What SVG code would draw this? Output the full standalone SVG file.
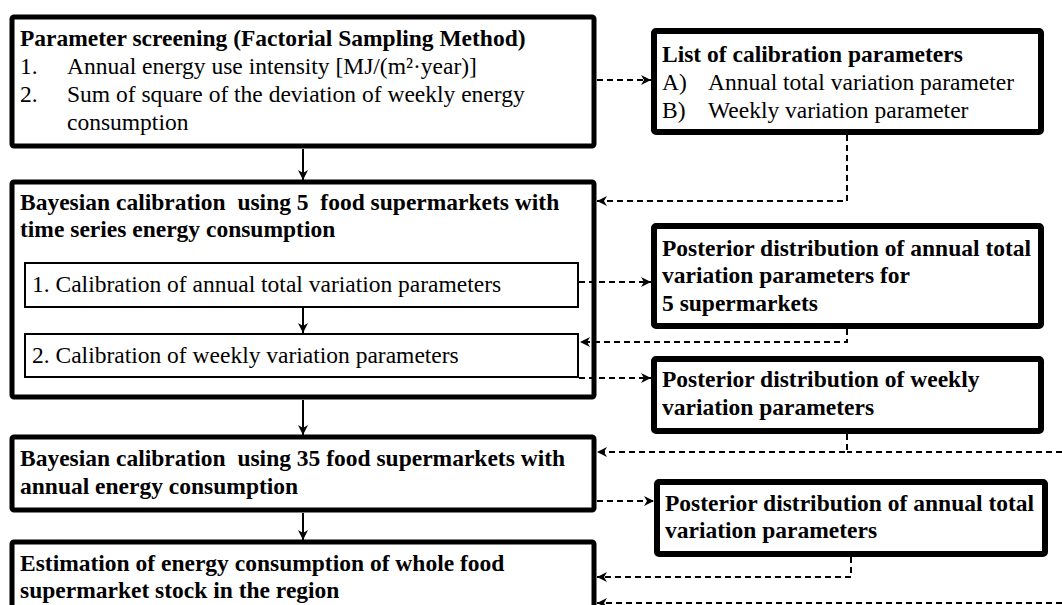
<svg xmlns="http://www.w3.org/2000/svg" width="1062" height="605" viewBox="0 0 1062 605">
<style>
.box{fill:#fff;stroke:#000;stroke-width:5}
.rbox{fill:#fff;stroke:#000;stroke-width:6}
.ibox{fill:none;stroke:#000;stroke-width:2}
.b{font-family:"Liberation Serif","Times New Roman",serif;font-weight:bold;font-size:23.5px;white-space:pre;fill:#000}
.r{font-family:"Liberation Serif","Times New Roman",serif;font-size:23.5px;white-space:pre;fill:#000}
.solid{stroke:#000;stroke-width:2;fill:none}
.dash{stroke:#000;stroke-width:2;stroke-dasharray:6 4;fill:none}
</style>
<defs>
<marker id="ah" markerWidth="12" markerHeight="10" refX="10" refY="5" orient="auto" markerUnits="userSpaceOnUse">
<path d="M0,0 L10,5 L0,10 L3,5 Z" fill="#000"/>
</marker>
</defs>
<rect width="1062" height="605" fill="#fff"/>
<g id="screening">
<rect class="box" x="12" y="17" width="582" height="129" rx="2"/>
<text class="b" x="20" y="46">Parameter screening (Factorial Sampling Method)</text>
<text class="r" x="20" y="74">1.</text>
<text class="r" x="67" y="74">Annual energy use intensity [MJ/(m²·year)]</text>
<text class="r" x="20" y="102">2.</text>
<text class="r" x="67" y="102">Sum of square of the deviation of weekly energy</text>
<text class="r" x="67" y="130">consumption</text>
</g>
<g id="calib5">
<rect class="box" x="12" y="182" width="582" height="215" rx="2"/>
<text class="b" x="20" y="210">Bayesian calibration  using 5  food supermarkets with</text>
<text class="b" x="20" y="237">time series energy consumption</text>
</g>
<g id="calib-annual">
<rect class="ibox" x="25" y="263" width="553" height="44"/>
<text class="r" x="32" y="292">1. Calibration of annual total variation parameters</text>
</g>
<g id="calib-weekly">
<rect class="ibox" x="25" y="334" width="553" height="43"/>
<text class="r" x="32" y="363">2. Calibration of weekly variation parameters</text>
</g>
<g id="calib35">
<rect class="box" x="12" y="437" width="582" height="73" rx="2"/>
<text class="b" x="20" y="466">Bayesian calibration  using 35 food supermarkets with</text>
<text class="b" x="20" y="494">annual energy consumption</text>
</g>
<g id="estimation">
<rect class="box" x="12" y="542" width="582" height="90" rx="2"/>
<text class="b" x="20" y="571">Estimation of energy consumption of whole food</text>
<text class="b" x="20" y="598">supermarket stock in the region</text>
</g>
<g id="param-list">
<rect class="rbox" x="654" y="31" width="387" height="101" rx="2"/>
<text class="b" x="662" y="62">List of calibration parameters</text>
<text class="r" x="662" y="90">A)</text>
<text class="r" x="708" y="90">Annual total variation parameter</text>
<text class="r" x="662" y="118">B)</text>
<text class="r" x="708" y="118">Weekly variation parameter</text>
</g>
<g id="post-annual5">
<rect class="rbox" x="654" y="226" width="387" height="100" rx="2"/>
<text class="b" x="662" y="256">Posterior distribution of annual total</text>
<text class="b" x="662" y="283">variation parameters for</text>
<text class="b" x="662" y="311">5 supermarkets</text>
</g>
<g id="post-weekly">
<rect class="rbox" x="654" y="359" width="387" height="72" rx="2"/>
<text class="b" x="662" y="387">Posterior distribution of weekly</text>
<text class="b" x="662" y="415">variation parameters</text>
</g>
<g id="post-annual35">
<rect class="rbox" x="657" y="482" width="388" height="72" rx="2"/>
<text class="b" x="665" y="511">Posterior distribution of annual total</text>
<text class="b" x="665" y="538">variation parameters</text>
</g>
<g id="connectors">
<path class="solid" d="M303,149 V180" marker-end="url(#ah)"/>
<path class="solid" d="M303,308 V333" marker-end="url(#ah)"/>
<path class="solid" d="M303,400 V435" marker-end="url(#ah)"/>
<path class="solid" d="M303,513 V540" marker-end="url(#ah)"/>
<path class="dash" d="M597,80 H651" marker-end="url(#ah)"/>
<path class="dash" d="M847,135 V201 H597" marker-end="url(#ah)"/>
<path class="dash" d="M579,282 H651" marker-end="url(#ah)"/>
<path class="dash" d="M847,329 V342 H580" marker-end="url(#ah)"/>
<path class="dash" d="M579,378 H651" marker-end="url(#ah)"/>
<path class="dash" d="M847,434 V452 H597" marker-end="url(#ah)"/>
<path class="dash" d="M1062,452 H847"/>
<path class="dash" d="M597,501 H654" marker-end="url(#ah)"/>
<path class="dash" d="M851,557 V577 H597" marker-end="url(#ah)"/>
<path class="dash" d="M1062,603 H597" marker-end="url(#ah)"/>
</g>
</svg>
